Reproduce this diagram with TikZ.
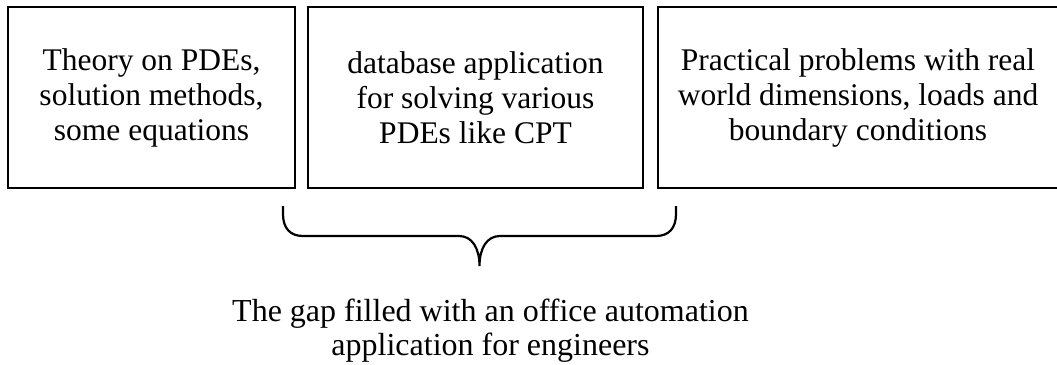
\documentclass[tikz,border=0pt]{standalone}
\usepackage{fontspec}
\setmainfont{Liberation Serif}
\begin{document}
\begin{tikzpicture}[x=1pt,y=-1pt,
  boxstyle/.style={draw=black,line width=2.7pt,minimum height=181pt,align=center,inner sep=0pt,
    font=\rmfamily\fontsize{31.5}{35}\selectfont},
  labelstyle/.style={align=center,inner sep=0pt,font=\rmfamily\fontsize{32}{34}\selectfont}]
\useasboundingbox (0,0) rectangle (1057,364);
\begin{scope}
\clip (0,0) rectangle (1057,364);
\node[boxstyle,minimum width=287pt] (b1) at (151.5,97.5) {Theory on PDEs,\\solution methods,\\some equations};
\node[boxstyle,minimum width=335pt] (b2) at (475.5,97.5) {database application\\for solving various\\PDEs like CPT};
\node[boxstyle,minimum width=400pt] (b3) at (858,97.5) {Practical problems with real\\world dimensions, loads and\\boundary conditions};
\end{scope}
\coordinate (bl) at (283,206);
\coordinate (br) at (676,206);
\coordinate (tip) at (479.5,266);
\draw[line width=2.2pt] (bl) -- (283,214) .. controls (283,228) and (290,236) .. (303,236)
  -- (459,236) .. controls (472,236) and (479.5,248) .. (tip)
  (tip) .. controls (479.5,248) and (487,236) .. (500,236)
  -- (656,236) .. controls (669,236) and (676,228) .. (676,214) -- (br);
\node[labelstyle] (gap) at (490.5,331) {The gap filled with an office automation\\application for engineers};
\end{tikzpicture}
\end{document}
